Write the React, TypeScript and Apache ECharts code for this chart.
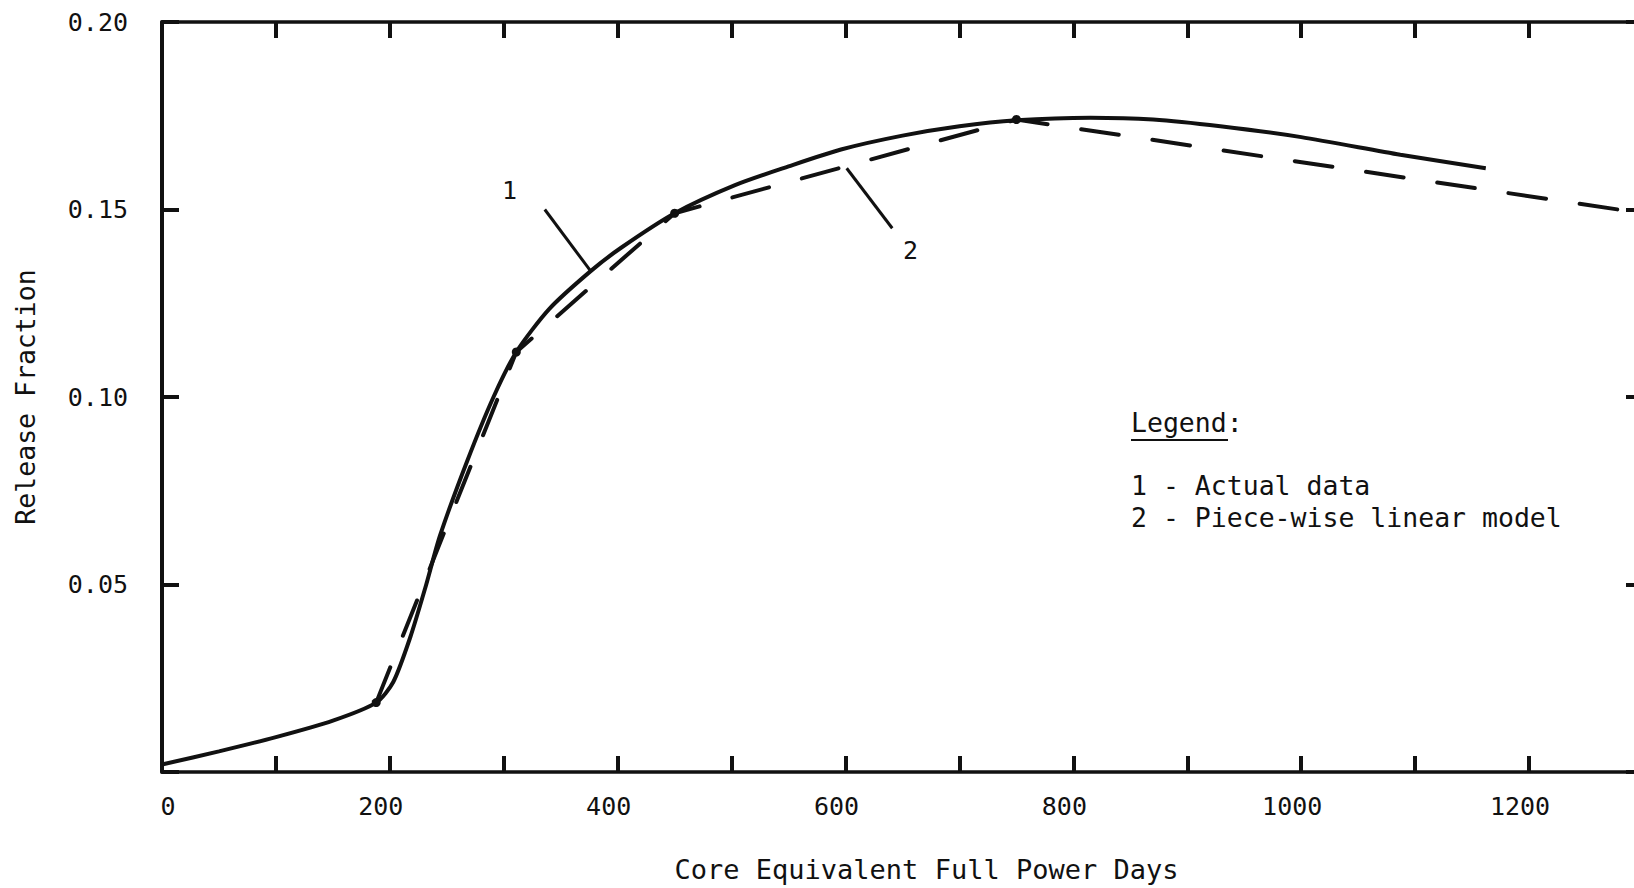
import React, { useEffect, useRef } from "react";
import * as echarts from "echarts";

// Curve 1: actual data (Core Equivalent Full Power Days, Release Fraction)
const actualDays = [0, 50, 100, 150, 188, 203, 218, 231, 244, 268, 291, 311, 340, 376, 403, 450, 503, 550, 596, 650, 700, 750, 815, 870, 929, 1000, 1087, 1162];
const actualFraction = [0.002, 0.0055, 0.0093, 0.0137, 0.0185, 0.024, 0.036, 0.049, 0.063, 0.083, 0.1, 0.112, 0.1235, 0.1335, 0.1398, 0.149, 0.1565, 0.1615, 0.166, 0.1697, 0.1722, 0.1738, 0.1745, 0.174, 0.1722, 0.1693, 0.1646, 0.161];

// Curve 2: piece-wise linear model nodes
const modelDays = [188, 311, 450, 750, 1300];
const modelFraction = [0.0185, 0.112, 0.149, 0.174, 0.149];

// Axis ticks
const xMin = 0;
const xMax = 1300;
const xInterval = 100;
const xLabelValues = [0, 200, 400, 600, 800, 1000, 1200];
const yMin = 0;
const yMax = 0.2;
const yInterval = 0.05;
const yLabelValues = [0.05, 0.1, 0.15, 0.2];

// Curve annotations (data coordinates)
const annotationLabels = ["1", "2"];
const annotationTextAt = [[305, 0.155], [657, 0.139]];
const annotationFrom = [[336, 0.15], [601, 0.161]];
const annotationTo = [[376, 0.1337], [641, 0.145]];

// Legend text
const legendTitle = "Legend";
const legendItems = ["1 - Actual data", "2 - Piece-wise linear model"];

const FONT = '"DejaVu Sans Mono", monospace';
const INK = "#111";

export default function App() {
  const ref = useRef<HTMLDivElement>(null);

  useEffect(() => {
    if (!ref.current) return;
    const chart = echarts.init(ref.current, undefined, { renderer: "svg" });

    const solidData = actualDays.map((d, i) => [d, actualFraction[i]]);
    const dashedData = modelDays.map((d, i) => ({
      value: [d, modelFraction[i]],
      symbolSize: i === modelDays.length - 1 ? 0 : 9,
    }));

    const tickLabel = { fontFamily: FONT, fontSize: 25, color: INK };

    chart.setOption({
      animation: false,
      backgroundColor: "#fff",
      grid: { left: 162, top: 22, width: 1481, height: 750, outerBoundsMode: "none", containLabel: false },
      xAxis: [
        {
          type: "value",
          min: xMin,
          max: xMax,
          interval: xInterval,
          position: "bottom",
          name: "Core Equivalent Full Power Days",
          nameLocation: "middle",
          nameGap: 84,
          nameTextStyle: { fontFamily: FONT, fontSize: 27, color: INK, padding: [0, 0, 0, 48] },
          axisLine: { show: true, onZero: false, lineStyle: { color: INK, width: 3.5 } },
          axisTick: { show: true, inside: true, length: 16, lineStyle: { color: INK, width: 4 } },
          axisLabel: {
            margin: 22,
            formatter: (v: number) =>
              xLabelValues.indexOf(v) < 0 ? "" : v === 0 ? "{z|0}" : "{n|" + v + "}",
            rich: {
              z: { ...tickLabel, padding: [0, 0, 0, 12] },
              n: { ...tickLabel, padding: [0, 18, 0, 0] },
            },
          },
          splitLine: { show: false },
        },
        {
          type: "value",
          min: xMin,
          max: xMax,
          interval: xInterval,
          position: "top",
          axisLine: { show: true, onZero: false, lineStyle: { color: INK, width: 3.5 } },
          axisTick: { show: true, inside: true, length: 16, lineStyle: { color: INK, width: 4 } },
          axisLabel: { show: false },
          splitLine: { show: false },
        },
      ],
      yAxis: [
        {
          type: "value",
          min: yMin,
          max: yMax,
          interval: yInterval,
          position: "left",
          name: "Release Fraction",
          nameLocation: "middle",
          nameGap: 123,
          nameTextStyle: { fontFamily: FONT, fontSize: 26.5, color: INK },
          axisLine: { show: true, onZero: false, lineStyle: { color: INK, width: 4 } },
          axisTick: { show: true, inside: true, length: 17, lineStyle: { color: INK, width: 4 } },
          axisLabel: {
            ...tickLabel,
            margin: 34,
            formatter: (v: number) => {
              const hit = yLabelValues.some((y) => Math.abs(y - v) < 1e-9);
              return hit ? v.toFixed(2) : "";
            },
          },
          splitLine: { show: false },
        },
        {
          type: "value",
          min: yMin,
          max: yMax,
          interval: yInterval,
          position: "right",
          axisLine: { show: false, onZero: false },
          axisTick: { show: true, inside: true, length: 17, lineStyle: { color: INK, width: 4 } },
          axisLabel: { show: false },
          splitLine: { show: false },
        },
      ],
      series: [
        {
          name: "1 - Actual data",
          type: "line",
          data: solidData,
          smooth: 0.25,
          showSymbol: false,
          symbol: "none",
          lineStyle: { color: INK, width: 4 },
          z: 3,
        },
        {
          name: "2 - Piece-wise linear model",
          type: "line",
          data: dashedData,
          symbol: "circle",
          showSymbol: true,
          itemStyle: { color: INK },
          lineStyle: { color: INK, width: 4, type: [38, 34], cap: "round" },
          z: 4,
        },
      ],
    });

    const graphics: any[] = [];
    annotationLabels.forEach((lab, i) => {
      const p = chart.convertToPixel({ gridIndex: 0 }, annotationTextAt[i]) as number[];
      const a = chart.convertToPixel({ gridIndex: 0 }, annotationFrom[i]) as number[];
      const b = chart.convertToPixel({ gridIndex: 0 }, annotationTo[i]) as number[];
      graphics.push({
        type: "line",
        shape: { x1: a[0], y1: a[1], x2: b[0], y2: b[1] },
        style: { stroke: INK, lineWidth: 3 },
        z: 10,
      });
      graphics.push({
        type: "text",
        x: p[0],
        y: p[1],
        style: { text: lab, fontFamily: FONT, fontSize: 25, fill: INK, align: "center", verticalAlign: "middle" },
        z: 10,
      });
    });
    graphics.push({
      type: "text",
      x: 1131,
      y: 422,
      style: { text: legendTitle + ":", fontFamily: FONT, fontSize: 26.5, fill: INK, align: "left", verticalAlign: "middle" },
    });
    graphics.push({
      type: "line",
      shape: { x1: 1131, y1: 440, x2: 1228, y2: 440 },
      style: { stroke: INK, lineWidth: 2 },
    });
    legendItems.forEach((t, i) => {
      graphics.push({
        type: "text",
        x: 1131,
        y: 485 + i * 32,
        style: { text: t, fontFamily: FONT, fontSize: 26.5, fill: INK, align: "left", verticalAlign: "middle" },
      });
    });
    chart.setOption({ graphic: graphics });

    return () => chart.dispose();
  }, []);

  return (
    <div
      ref={ref}
      style={{ position: "fixed", left: 0, top: 0, width: 1634, height: 888, background: "#fff" }}
    />
  );
}
